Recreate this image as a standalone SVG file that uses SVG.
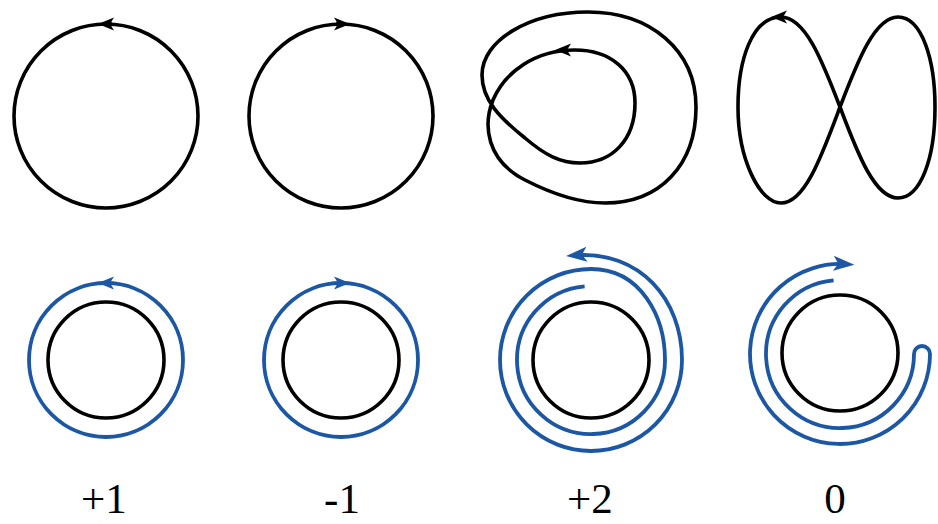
<svg xmlns="http://www.w3.org/2000/svg" width="938" height="524" viewBox="0 0 938 524">
<style>
.k{fill:none;stroke:#000;stroke-width:3.6}
.b{fill:none;stroke:#1b57a5;stroke-width:3.8}
.lbl{font-family:"Liberation Serif","Times New Roman",serif;font-size:43px;fill:#000;text-anchor:middle}
</style>
<defs>
<marker id="ak" viewBox="0 0 16 14" refX="10" refY="7" markerWidth="16" markerHeight="14" markerUnits="userSpaceOnUse" orient="auto">
<path d="M16,7 L0,0.5 L4,7 L0,13.5 Z" fill="#000"/>
</marker>
<marker id="ab" viewBox="0 0 16 14" refX="10" refY="7" markerWidth="16" markerHeight="14" markerUnits="userSpaceOnUse" orient="auto">
<path d="M16,7 L0,0.5 L4,7 L0,13.5 Z" fill="#1b57a5"/>
</marker>
<marker id="abL" viewBox="0 0 21 16" refX="13" refY="8" markerWidth="21" markerHeight="16" markerUnits="userSpaceOnUse" orient="auto">
<path d="M21,8 L0,0.5 L5,8 L0,15.5 Z" fill="#1b57a5"/>
</marker>
</defs>
<rect width="938" height="524" fill="#fff"/>

<g id="top1">
<circle class="k" cx="106" cy="116" r="92"/>
<path class="k" d="M112,24 L104,24" marker-end="url(#ak)"/>
</g>
<g id="top2">
<circle class="k" cx="341" cy="116" r="92"/>
<path class="k" d="M336,24 L344,24" marker-end="url(#ak)"/>
</g>
<g id="top3">
<path class="k" d="M575,50 C535,50 505,72 493,100 C483,125 486,160 525,180 C560,198 585,203 605,203 C660,203 696,165 696,107 C696,50 650,12 588,12 C530,12 482,40 482,75 C482,100 500,118 525,138 C545,155 560,163 580,163 C612,163 635,140 635,103 C635,70 610,50 575,50 Z"/>
<path class="k" d="M567,50 L561,50" marker-end="url(#ak)"/>
</g>
<g id="top4">
<path class="k" d="M840,107 C822,60 805,17 781,17 C752,17 738,60 738,107 C738,160 760,203 781,203 C805,203 822,155 840,107 C858,60 875,17 898,17 C922,17 935,60 935,107 C935,160 920,198 898,198 C875,198 858,155 840,107 Z"/>
<path class="k" d="M783,17 L777,17" marker-end="url(#ak)"/>
</g>

<g id="bot1">
<circle class="k" cx="106" cy="360" r="58"/>
<circle class="b" cx="106" cy="360" r="77"/>
<path class="b" d="M110,283 L104,283" marker-end="url(#ab)"/>
</g>
<g id="bot2">
<circle class="k" cx="341" cy="360" r="58"/>
<circle class="b" cx="341" cy="360" r="77"/>
<path class="b" d="M338,283 L344,283" marker-end="url(#ab)"/>
</g>
<g id="bot3">
<circle class="k" cx="591" cy="360" r="58"/>
<path class="b" d="M584.6,286.3 A74 74 0 1 0 665,360 C665,317 641,269 591,269 A91 91 0 1 0 682,360 C682,300 640,250 574,255.4" marker-end="url(#abL)"/>
</g>
<g id="bot4">
<circle class="k" cx="840" cy="353" r="58"/>
<path class="b" d="M833.6,280.3 A74 74 0 1 0 914,354 A8 8 0 0 1 930,354 A90 90 0 1 1 846.3,264.2" marker-end="url(#abL)"/>
</g>

<g id="labels">
<text class="lbl" x="104" y="513">+1</text>
<text class="lbl" x="342" y="513">-1</text>
<text class="lbl" x="590" y="513">+2</text>
<text class="lbl" x="835" y="513">0</text>
</g>
</svg>
